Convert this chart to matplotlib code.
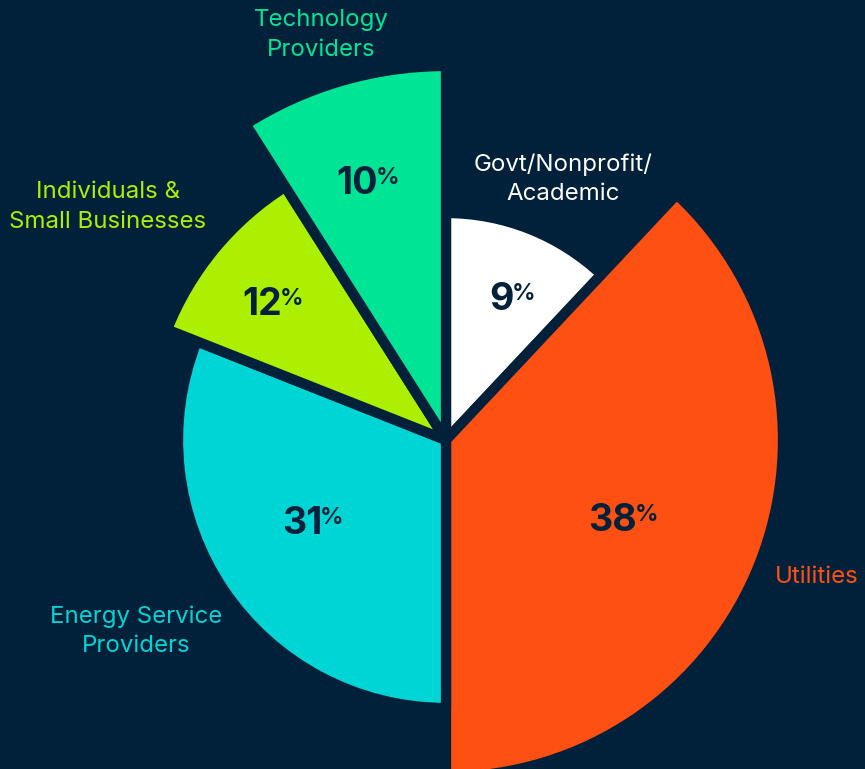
import numpy as np
import matplotlib.pyplot as plt
from matplotlib.patches import Wedge

# slices, clockwise from 12 o'clock
labels = ["Govt/Nonprofit/\nAcademic", "Utilities", "Energy Service\nProviders",
          "Individuals &\nSmall Businesses", "Technology\nProviders"]
pct_text = [9, 38, 31, 12, 10]          # numbers printed on the slices
angle_share = [12, 38, 31, 10, 9]       # share of the circle each slice covers
radius = [227, 337, 268, 300, 374]      # slice radius in pixels
colors = ["#FFFFFF", "#FF5014", "#00D5D5", "#ADEF00", "#00E595"]

bg = "#01213B"
W, H = 865, 769
cx, cy = 446, H - 440

fig = plt.figure(figsize=(W / 100, H / 100), dpi=100, facecolor=bg)
ax = fig.add_axes([0, 0, 1, 1])
ax.set_xlim(0, W)
ax.set_ylim(0, H)
ax.set_facecolor(bg)
ax.axis("off")

# label positions: (x, y) in pixels from top-left, plus alignment
label_pos = [(563, 179, "center"), (775, 577, "left"), (136, 631, "center"),
             (108, 207, "center"), (321, 35, "center")]
num_frac = [0.70, 0.573, 0.58, 0.74, 0.725]
num_turn = [3.0, 1.9, 3.2, -0.8, -0.5]

renderer = fig.canvas.get_renderer()
start = 0.0
for i in range(len(labels)):
    span = angle_share[i] / sum(angle_share) * 360
    a0, a1 = start, start + span
    w = Wedge((cx, cy), radius[i], 90 - a1, 90 - a0, facecolor=colors[i],
              edgecolor=bg, linewidth=7.4, joinstyle="round")
    ax.add_patch(w)

    mid = np.deg2rad((a0 + a1) / 2 + num_turn[i])
    r = radius[i] * num_frac[i]
    px, py = cx + r * np.sin(mid), cy + r * np.cos(mid) - 4
    t1 = ax.text(0, 0, str(pct_text[i]), fontsize=27, fontweight="bold",
                 family="Inter", color=bg, ha="left", va="center")
    t2 = ax.text(0, 0, "%", fontsize=17, fontweight="semibold",
                 family="Inter", color=bg, ha="left", va="top")
    wn = t1.get_window_extent(renderer).width
    wp = t2.get_window_extent(renderer).width
    left = px - (wn + wp - 2) / 2
    t1.set_position((left, py))
    t2.set_position((left + wn - 2, py + 17))

    lx, ly, ha = label_pos[i]
    ax.text(lx, H - ly, labels[i], fontsize=17.3, family="Inter",
            color=colors[i], ha=ha, va="center", multialignment="center",
            linespacing=1.42)
    start = a1

fig.savefig("out.png", dpi=100, facecolor=bg)
